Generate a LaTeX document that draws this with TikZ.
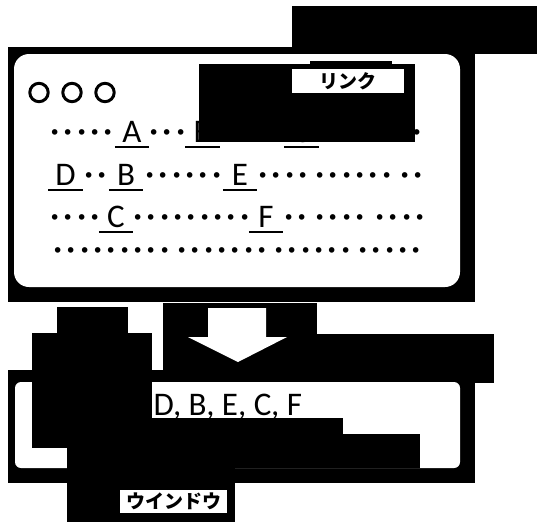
\documentclass[tikz,border=0pt]{standalone}
\usepackage{fontspec}
\setmainfont{Carlito}
\newfontfamily\jpfont{Noto Sans CJK JP}
\usetikzlibrary{positioning}

\begin{document}
\begin{tikzpicture}[x=1pt, y=-1pt, redact/.style={fill=black}, pane/.style={fill=white, rounded corners=#1}, linkchar/.style={font=\fontsize{33}{33}\selectfont, anchor=base, inner sep=0pt, minimum width=34pt}, dotrun/.style={font=\jpfont\bfseries\fontsize{26.6}{26.6}\selectfont, anchor=base west, inner sep=0pt}, uline/.style={line width=2pt}, tag/.style={fill=white, font=\jpfont\bfseries\fontsize{19}{19}\selectfont, inner sep=0pt}]
\useasboundingbox (0,0) rectangle (537,522);
\fill[redact] (8,47) rectangle (475,302);
\fill[redact] (292,6) rectangle (537,54);
\fill[pane=15pt] (14,54) rectangle (460,287);
\foreach \cx in {39,72,105}
  \draw[line width=3pt] (\cx,92.5) circle[radius=9.2];
\node[linkchar] (a1) at (132,142) {A};
\node[linkchar] (b1) at (202.5,142) {B};
\node[linkchar] (c1) at (301.5,142) {C};
\node[linkchar] (d2) at (65.5,185) {D};
\node[linkchar] (b2) at (126,185) {B};
\node[linkchar] (e2) at (240,185) {E};
\node[linkchar] (c3) at (116,227) {C};
\node[linkchar] (f3) at (266,227) {F};
\foreach \n in {a1,b1,c1,d2,b2,e2,c3,f3}
  \draw[uline] ([yshift=-4.5pt]\n.base west) -- ([yshift=-4.5pt]\n.base east);
\node[dotrun] (r1a) at (48.4,142) {･････};
\node[dotrun] (r1b) at (147.4,142) {･･･};
\node[dotrun] (r1c) at (219.4,142) {･････};
\node[dotrun] (r1d) at (317.4,142) {････････};
\node[dotrun] (r2a) at (82.4,185) {･･};
\node[dotrun] (r2b) at (143.4,185) {･･････};
\node[dotrun] (r2c) at (256.4,185) {････};
\node[dotrun] (r2d) at (313.4,185) {･･････};
\node[dotrun] (r2e) at (398.4,185) {･･};
\node[dotrun] (r3a) at (48.4,227) {････};
\node[dotrun] (r3b) at (131.4,227) {･････････};
\node[dotrun] (r3c) at (282.4,227) {･･};
\node[dotrun] (r3d) at (313.4,227) {････};
\node[dotrun] (r3e) at (373.4,227) {････};
\node[dotrun] (r4a) at (51.4,260) {･････････};
\node[dotrun] (r4b) at (175.4,260) {･･･････};
\node[dotrun] (r4c) at (272.4,260) {･･････};
\node[dotrun] (r4d) at (356.4,260) {･････};
\fill[redact] (199,64) rectangle (415,142);
\fill[redact] (310,61) rectangle (392,64);
\node[tag, minimum width=112pt, minimum height=24pt] (lnk) at (348,81) {リンク};
\fill[redact] (8,370) rectangle (475,483);
\fill[redact] (163,303) rectangle (317,383);
\fill[redact] (317,334) rectangle (494,383);
\fill[white] (208,308) -- (266,308) -- (266,337) -- (287,337) -- (238,362) -- (188,337) -- (208,337) -- cycle;
\fill[pane=6pt] (15,382) rectangle (460,468);
\node[font=\fontsize{33}{33}\selectfont, anchor=base west, inner sep=0pt] (order) at (52,415) {A, B, C, D, B, E, C, F};
\fill[redact] (57,307) rectangle (128,334);
\fill[redact] (32,333) rectangle (152,418);
\fill[redact] (32,418) rectangle (343,448);
\fill[redact] (150,434) rectangle (420,468);
\fill[redact] (67,448) rectangle (235,522);
\node[tag, minimum width=107pt, minimum height=23pt] (win) at (173.5,501.5) {ウインドウ};
\end{tikzpicture}
\end{document}
